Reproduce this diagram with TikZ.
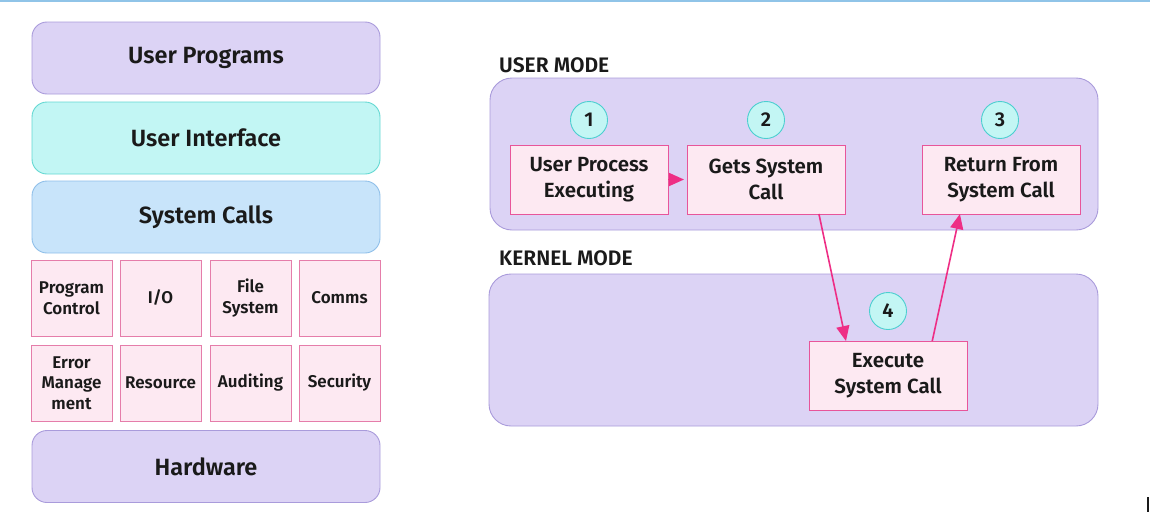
\documentclass[tikz,border=0pt]{standalone}
\usepackage{fontspec}
\setmainfont{Fira Sans}[BoldFont={Fira Sans SemiBold}]
\usetikzlibrary{arrows.meta,calc}
\definecolor{lavfill}{HTML}{DCD3F5}
\definecolor{lavline}{HTML}{A99BDB}
\definecolor{cyfill}{HTML}{C2F6F4}
\definecolor{cyline}{HTML}{64D8D2}
\definecolor{blfill}{HTML}{C8E4FA}
\definecolor{blline}{HTML}{8FBFE9}
\definecolor{pkfill}{HTML}{FDE9F2}
\definecolor{pkline}{HTML}{E57DAA}
\definecolor{pkline2}{HTML}{E8559A}
\definecolor{cirfill}{HTML}{C3F6F4}
\definecolor{cirline}{HTML}{4CCFD0}
\definecolor{arrowpk}{HTML}{EE2E85}
\definecolor{topline}{HTML}{90C4E8}
\definecolor{txt}{HTML}{1A1A1A}
\tikzset{
  layer/.style={draw, rounded corners=15pt, minimum width=348pt, minimum height=72pt,
    inner sep=0pt, outer sep=0pt, line width=0.9pt, text=txt,
    font=\bfseries\fontsize{23.5}{28}\selectfont},
  cell/.style={draw=pkline, fill=pkfill, minimum width=81pt, minimum height=76pt,
    inner sep=0pt, outer sep=0pt, line width=0.9pt, align=center, text=txt,
    font=\bfseries\fontsize{17}{20.5}\selectfont},
  modebox/.style={draw=lavline, fill=lavfill, rounded corners=22pt, inner sep=0pt,
    outer sep=0pt, line width=0.9pt},
  modelabel/.style={anchor=west, inner sep=0pt, text=txt, font=\bfseries\fontsize{21}{24}\selectfont},
  stepnum/.style={circle, draw=cirline, fill=cirfill, minimum size=37pt, inner sep=0pt,
    line width=0.9pt, text=txt, font=\bfseries\fontsize{20}{24}\selectfont},
  procbox/.style={draw=pkline2, fill=pkfill, minimum width=158pt, minimum height=69pt,
    inner sep=0pt, outer sep=0pt, line width=1pt, align=center, text=txt,
    font=\bfseries\fontsize{20.5}{26}\selectfont},
  flow/.style={draw=arrowpk, line width=1.6pt, -{Triangle[length=15pt,width=13pt]}},
}
\begin{document}
\begin{tikzpicture}[x=1pt,y=-1pt]
\useasboundingbox (0,0) rectangle (1150,522);
\draw[topline, line width=1.5pt] (0,0.75) -- (1150,0.75);
% left stack
\node[layer, fill=lavfill, draw=lavline] (up) at (206,58) {User Programs};
\node[layer, fill=cyfill, draw=cyline] (ui) at (206,138) {User Interface};
\node[layer, fill=blfill, draw=blline] (sc) at (206,217) {System Calls};
\node[cell] (pc) at (71.5,298) {Program\\Control};
\node[cell] (io) at (160.5,298) {I/O};
\node[cell] (fs) at (250.5,298) {File\\System};
\node[cell] (cm) at (339.5,298) {Comms};
\node[cell] (em) at (71.5,383) {Error\\Manage\\ment};
\node[cell] (rs) at (160.5,383) {Resource};
\node[cell] (au) at (250.5,383) {Auditing};
\node[cell] (se) at (339.5,383) {Security};
\node[layer, fill=lavfill, draw=lavline] (hw) at (206,466.5) {Hardware};
% right
\node[modelabel] (uml) at (499,65) {USER MODE};
\node[modebox, minimum width=608pt, minimum height=152pt] (um) at (794,154) {};
\node[modelabel] (kml) at (499,258) {KERNEL MODE};
\node[modebox, minimum width=609pt, minimum height=152pt] (km) at (793.5,350) {};
\node[stepnum] (c1) at (589,120) {1};
\node[stepnum] (c2) at (766,120) {2};
\node[stepnum] (c3) at (1000,120) {3};
\node[stepnum] (c4) at (888,311) {4};
\node[procbox] (b1) at (589,179.5) {User Process\\Executing};
\node[procbox] (b2) at (766,179.5) {Gets System\\Call};
\node[procbox] (b3) at (1001,179.5) {Return From\\System Call};
\node[procbox] (b4) at (888,375.5) {Execute\\System Call};
\draw[flow, shorten >=3pt] (b1.east) -- (b2.west);
\draw[flow] ($(b2.south west)!0.835!(b2.south east)$) -- ($(b4.north west)!0.234!(b4.north east)$);
\draw[flow] ($(b4.north west)!0.78!(b4.north east)$) -- ($(b3.south west)!0.24!(b3.south east)$);
\coordinate (artA) at (1148,497);
\coordinate (artB) at (1148,512);
\draw[line width=1.2pt, txt] (artA) -- (artB);
\end{tikzpicture}
\end{document}
